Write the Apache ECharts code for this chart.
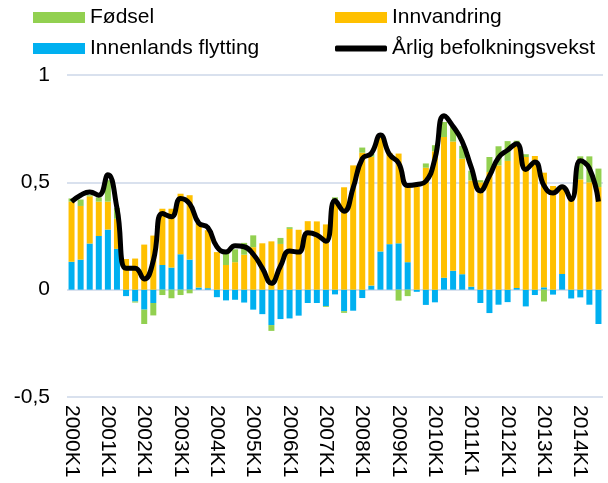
<!DOCTYPE html>
<html>
<head>
<meta charset="utf-8">
<script src="https://cdn.jsdelivr.net/npm/echarts@6/dist/echarts.min.js"></script>
<style>html,body{margin:0;padding:0;background:#fff}#c{width:608px;height:483px}</style>
</head>
<body>
<div id="c"></div>
<script>
const categories = [
 '2000K1','2000K2','2000K3','2000K4','2001K1','2001K2','2001K3','2001K4',
 '2002K1','2002K2','2002K3','2002K4','2003K1','2003K2','2003K3','2003K4',
 '2004K1','2004K2','2004K3','2004K4','2005K1','2005K2','2005K3','2005K4',
 '2006K1','2006K2','2006K3','2006K4','2007K1','2007K2','2007K3','2007K4',
 '2008K1','2008K2','2008K3','2008K4','2009K1','2009K2','2009K3','2009K4',
 '2010K1','2010K2','2010K3','2010K4','2011K1','2011K2','2011K3','2011K4',
 '2012K1','2012K2','2012K3','2012K4','2013K1','2013K2','2013K3','2013K4',
 '2014K1','2014K2','2014K3'
];
const innenlands = [0.13,0.14,0.215,0.25,0.28,0.19,-0.03,-0.055,-0.093,-0.062,0.115,0.103,0.165,0.14,0.01,0.007,
 -0.035,-0.05,-0.047,-0.06,-0.093,-0.114,-0.165,-0.137,-0.134,-0.121,-0.062,-0.062,-0.076,-0.022,-0.1,-0.098,
 -0.039,0.019,0.178,0.212,0.216,0.128,-0.01,-0.071,-0.059,0.056,0.088,0.072,0.014,-0.062,-0.109,-0.07,
 -0.058,0.008,-0.078,-0.025,0.011,-0.023,0.073,-0.041,-0.036,-0.07,-0.16];
const innvandring = [0.28,0.25,0.22,0.16,0.13,0.14,0.143,0.145,0.21,0.252,0.262,0.274,0.282,0.30,0.30,0.27,
 0.175,0.115,0.128,0.163,0.198,0.216,0.225,0.213,0.283,0.279,0.319,0.318,0.304,0.42,0.477,0.579,
 0.638,0.6,0.532,0.425,0.418,0.362,0.48,0.568,0.645,0.655,0.602,0.538,0.495,0.5,0.548,0.579,
 0.6,0.676,0.618,0.623,0.534,0.483,0.41,0.424,0.514,0.5,0.478];
const fodsel = [0.015,0.03,0.005,0.02,0.10,0.05,0,-0.005,-0.067,-0.058,-0.025,-0.04,-0.025,-0.017,0,0,
 0,0.055,0.06,0.055,0.055,0,-0.027,0.028,0.008,0,0,0,-0.004,0.01,-0.008,0,
 0.024,0.013,0.01,0,-0.051,-0.03,0,0.02,0.028,0.07,0.07,0.06,0.045,0.01,0.07,0.089,
 0.092,0.01,0.013,0,-0.055,0,0,0,0.107,0.121,0.086];
const vekst = [0.41,0.44,0.455,0.44,0.535,0.38,0.10,0.10,0.05,0.135,0.355,0.34,0.425,0.40,0.31,0.29,
 0.20,0.175,0.205,0.20,0.165,0.10,0.03,0.11,0.18,0.175,0.265,0.255,0.225,0.415,0.365,0.475,
 0.61,0.635,0.72,0.63,0.59,0.485,0.49,0.505,0.61,0.81,0.76,0.69,0.57,0.46,0.53,0.615,
 0.65,0.68,0.56,0.595,0.485,0.45,0.48,0.42,0.60,0.565,0.41];
const yTicks = {min:-0.5, max:1, interval:0.5};

const FONT = '"Liberation Sans", Arial, sans-serif';
const FS = 21;
const chart = echarts.init(document.getElementById('c'));
const legBase = {selectedMode:false, itemWidth:52, itemHeight:11, icon:'rect', itemGap:5,
  textStyle:{fontSize:FS, color:'#000', fontFamily:FONT}, padding:0};
chart.setOption({
  animation:false,
  textStyle:{fontFamily:FONT},
  legend:[
    Object.assign({}, legBase, {data:['Fødsel'], left:33, top:7}),
    Object.assign({}, legBase, {data:['Innvandring'], left:335, top:7}),
    Object.assign({}, legBase, {data:['Innenlands flytting'], left:33, top:38}),
    Object.assign({}, legBase, {data:['Årlig befolkningsvekst'], left:335, top:38, icon:'roundRect', itemHeight:6, itemStyle:{color:'#000'}})
  ],
  grid:{left:67, right:5, top:75, bottom:86},
  xAxis:{type:'category', data:categories, boundaryGap:true,
    axisLine:{show:false}, axisTick:{show:false},
    axisLabel:{interval:3, rotate:-90, fontSize:FS, color:'#000', margin:8, fontFamily:FONT}},
  yAxis:{type:'value', min:yTicks.min, max:yTicks.max, interval:yTicks.interval,
    axisLine:{show:false}, axisTick:{show:false},
    axisLabel:{fontSize:FS, color:'#000', margin:17, fontFamily:FONT, formatter:v=>String(v).replace('.',',')},
    splitLine:{lineStyle:{color:'#D9E1EE', width:2}}},
  series:[
    {name:'Innenlands flytting', type:'bar', stack:'t', data:innenlands, itemStyle:{color:'#00B0F0'}, barCategoryGap:'34%'},
    {name:'Innvandring', type:'bar', stack:'t', data:innvandring, itemStyle:{color:'#FFC000'}},
    {name:'Fødsel', type:'bar', stack:'t', data:fodsel, itemStyle:{color:'#92D050'}},
    {name:'Årlig befolkningsvekst', type:'line', data:vekst, smooth:0.5, symbol:'none', z:10,
      lineStyle:{color:'#000', width:5}, itemStyle:{color:'#000'}}
  ]
});
</script>
</body>
</html>
